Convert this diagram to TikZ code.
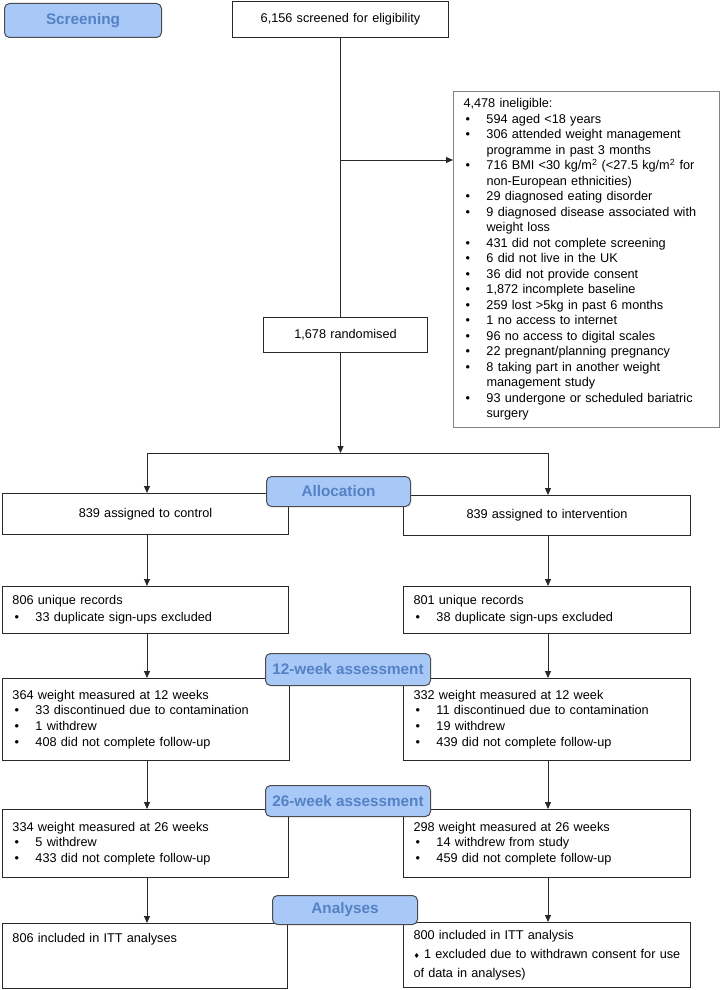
\documentclass[tikz,border=0pt]{standalone}
\usepackage{fontspec}
\setmainfont{Liberation Sans}
\newfontfamily\dejavu{DejaVu Sans}
\usetikzlibrary{arrows.meta}
\definecolor{hdrfill}{RGB}{168,200,248}
\definecolor{hdrtext}{RGB}{84,130,196}
\definecolor{boxline}{RGB}{40,40,40}
\definecolor{greyline}{RGB}{130,130,130}
\newcommand\bodyfont{\fontsize{12.7}{15.5}\selectfont}
\newcommand\bul[1]{\mbox{\makebox[23pt][l]{\hspace*{2pt}\textbullet}#1}}
\newcommand\cont[1]{\mbox{\hspace*{23pt}#1}}
\newcommand\dia{{\dejavu\fontsize{7}{7}\selectfont ♦}}
\begin{document}
\begin{tikzpicture}[x=1pt,y=-1pt,
  box/.style={draw=boxline, line width=1pt, fill=white, anchor=north west,
    inner xsep=10pt, inner ysep=0pt, align=left, font=\bodyfont},
  cbox/.style={box, align=center},
  stage/.style={draw=black!70, line width=1pt, fill=hdrfill, rounded corners=5pt,
    text=hdrtext, font=\bfseries\fontsize{15.3}{18}\selectfont, anchor=north west,
    inner sep=0pt},
  ln/.style={draw=boxline, line width=0.9pt},
  arr/.style={ln, -{Triangle[length=7pt,width=6pt]}}]
\useasboundingbox (0,0) rectangle (721,990);
\fill[white] (0,0) rectangle (721,990);

% main boxes
\node[cbox, text width=196pt, minimum height=36pt] (scr) at (232,1) {6,156 screened for eligibility};
\node[box, draw=greyline, text width=246pt, minimum height=336pt] (inel) at (453,91) {4,478 ineligible:\\
\bul{594 aged <18 years}\\
\bul{306 attended weight management}\\
\cont{programme in past 3 months}\\
\bul{716 BMI <30 kg/m\textsuperscript{2} (<27.5 kg/m\textsuperscript{2} for}\\
\cont{non-European ethnicities)}\\
\bul{29 diagnosed eating disorder}\\
\bul{9 diagnosed disease associated with}\\
\cont{weight loss}\\
\bul{431 did not complete screening}\\
\bul{6 did not live in the UK}\\
\bul{36 did not provide consent}\\
\bul{1,872 incomplete baseline}\\
\bul{259 lost >5kg in past 6 months}\\
\bul{1 no access to internet}\\
\bul{96 no access to digital scales}\\
\bul{22 pregnant/planning pregnancy}\\
\bul{8 taking part in another weight}\\
\cont{management study}\\
\bul{93 undergone or scheduled bariatric}\\
\cont{surgery}};
\node[cbox, text width=144pt, minimum height=35pt] (rand) at (263,317) {1,678 randomised};

\node[cbox, text width=266pt, minimum height=41pt] (ctrl) at (2,493) {839 assigned to control};
\node[cbox, text width=267pt, minimum height=40pt] (intv) at (403,495) {839 assigned to intervention};

\node[box, font=\fontsize{12.7}{17}\selectfont, text width=266pt, minimum height=47pt] (uniqa) at (2,586) {806 unique records\\
\bul{33 duplicate sign-ups excluded}};
\node[box, font=\fontsize{12.7}{17}\selectfont, text width=267pt, minimum height=47pt] (uniqb) at (403,586) {801 unique records\\
\bul{38 duplicate sign-ups excluded}};

\node[box, font=\fontsize{12.7}{15.7}\selectfont, text width=267pt, minimum height=82pt] (wka) at (2,678) {364 weight measured at 12 weeks\\
\bul{33 discontinued due to contamination}\\
\bul{1 withdrew}\\
\bul{408 did not complete follow-up}};
\node[box, font=\fontsize{12.7}{15.7}\selectfont, text width=267pt, minimum height=82pt] (wkb) at (403,678) {332 weight measured at 12 week\\
\bul{11 discontinued due to contamination}\\
\bul{19 withdrew}\\
\bul{439 did not complete follow-up}};

\node[box, text width=266pt, minimum height=68pt] (wma) at (2,809) {334 weight measured at 26 weeks\\
\bul{5 withdrew}\\
\bul{433 did not complete follow-up}};
\node[box, text width=267pt, minimum height=68pt] (wmb) at (403,809) {298 weight measured at 26 weeks\\
\bul{14 withdrew from study}\\
\bul{459 did not complete follow-up}};

\node[box, font=\fontsize{12.7}{18.5}\selectfont, text width=265pt, minimum height=65pt] (inca) at (2,923) {806 included in ITT analyses\\ \mbox{}\\ \mbox{}};
\node[box, font=\fontsize{12.7}{19}\selectfont, text width=267pt, minimum height=65pt] (incb) at (403,922) {800 included in ITT analysis\\
\mbox{\dia\ 1 excluded due to withdrawn consent for use}\\
of data in analyses)};

% connectors
\coordinate (j1) at (scr.south |- 0,160);
\coordinate (bl) at (147,453);
\coordinate (bm) at (scr.south |- 0,453);
\coordinate (bri) at (548,453);
\draw[ln] (scr.south) -- (scr.south |- rand.north);
\draw[arr] (j1) -- (j1 -| inel.west);
\draw[arr] (scr.south |- rand.south) -- (bm);
\draw[ln] (bl) -- (bri);
\draw[arr] (bl) -- (bl |- ctrl.north);
\draw[arr] (bri) -- (bri |- intv.north);
\draw[arr] (bl |- ctrl.south) -- (bl |- uniqa.north);
\draw[arr] (bri |- intv.south) -- (bri |- uniqb.north);
\draw[arr] (bl |- uniqa.south) -- (bl |- wka.north);
\draw[arr] (bri |- uniqb.south) -- (bri |- wkb.north);
\draw[arr] (bl |- wka.south) -- (bl |- wma.north);
\draw[arr] (bri |- wkb.south) -- (bri |- wmb.north);
\draw[arr] (bl |- wma.south) -- (bl |- inca.north);
\draw[arr] (bri |- wmb.south) -- (bri |- incb.north);

% stage headings
\node[stage, minimum width=157pt, minimum height=34pt] (hscr) at (4,3) {Screening};
\node[stage, minimum width=144pt, minimum height=30pt] (halloc) at (266,476) {Allocation};
\node[stage, minimum width=165pt, minimum height=32pt] (h12) at (265,653) {12-week assessment};
\node[stage, minimum width=165pt, minimum height=31pt] (h26) at (265,785) {26-week assessment};
\node[stage, minimum width=145pt, minimum height=29pt] (han) at (272,895) {Analyses};
\end{tikzpicture}
\end{document}
